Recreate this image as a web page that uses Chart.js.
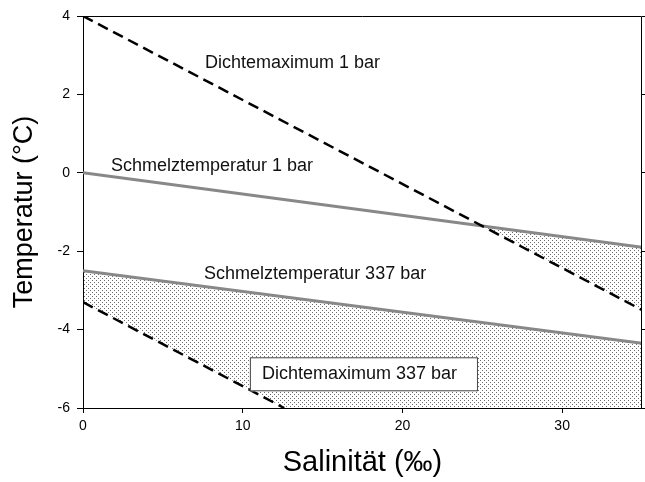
<!DOCTYPE html>
<html>
<head>
<meta charset="utf-8">
<script src="https://cdn.jsdelivr.net/npm/chart.js@4.4.1/dist/chart.umd.min.js"></script>
<style>
  html, body { margin: 0; padding: 0; background: #fff; }
  #wrap { width: 645px; height: 482px; }
</style>
</head>
<body>
<div id="wrap"><canvas id="chart" width="645" height="482"></canvas></div>
<script>
// Salinity (‰) vs temperature (°C)
const dichte1bar = [{ x: 0, y: 4.0 }, { x: 35, y: -3.5 }];
const schmelz1bar = [{ x: 0, y: 0.0 }, { x: 35, y: -1.9 }];
const schmelz337bar = [{ x: 0, y: -2.5 }, { x: 35, y: -4.35 }];
const dichte337bar = [{ x: 0, y: -3.3 }, { x: 12.6, y: -6.0 }];
// lower edge of the shaded band under the 337 bar melting line
const shadeLower = [{ x: 0, y: -3.3 }, { x: 12.6, y: -6.0 }, { x: 35, y: -6.0 }];

const xTicks = [0, 10, 20, 30];
const yTicks = [4, 2, 0, -2, -4, -6];

const FONT = '"Liberation Sans", Arial, sans-serif';

function makeDots() {
  const c = document.createElement('canvas');
  c.width = 4; c.height = 4;
  const g = c.getContext('2d');
  g.fillStyle = '#6e6e6e';
  g.fillRect(0, 0, 1, 1);
  g.fillRect(2, 2, 1, 1);
  return g.createPattern(c, 'repeat');
}
const dots = makeDots();

// text labels placed in data coordinates
const labels = [
  { text: 'Dichtemaximum 1 bar', x: 7.64, y: 2.8 },
  { text: 'Schmelztemperatur 1 bar', x: 1.75, y: 0.18 },
  { text: 'Schmelztemperatur 337 bar', x: 7.58, y: -2.57 },
  { text: 'Dichtemaximum 337 bar', x: 11.2, y: -5.14, box: true }
];

const labelPlugin = {
  id: 'labelPlugin',
  afterDatasetsDraw(chart) {
    const { ctx, scales: { x, y }, chartArea: a } = chart;
    ctx.save();
    // top and right edges of the frame
    ctx.strokeStyle = '#000';
    ctx.lineWidth = 1;
    ctx.beginPath();
    ctx.moveTo(a.left, a.top + 0.5);
    ctx.lineTo(a.right - 0.5, a.top + 0.5);
    ctx.lineTo(a.right - 0.5, a.bottom);
    ctx.stroke();
    ctx.font = '18px ' + FONT;
    ctx.textBaseline = 'middle';
    labels.forEach(l => {
      const px = x.getPixelForValue(l.x);
      const py = y.getPixelForValue(l.y);
      if (l.box) {
        const w = ctx.measureText(l.text).width;
        ctx.fillStyle = '#fff';
        ctx.fillRect(px - 12, py - 17, w + 33, 34);
        ctx.strokeStyle = '#444';
        ctx.strokeRect(px - 11.5, py - 16.5, w + 32, 33);
      }
      ctx.fillStyle = '#111';
      ctx.fillText(l.text, px, py);
    });
    ctx.restore();
  }
};

const dashed = [11, 6];

new Chart(document.getElementById('chart'), {
  type: 'line',
  data: {
    datasets: [
      { label: 'Dichtemaximum 337 bar', data: dichte337bar, borderColor: '#000', borderWidth: 2.5, borderDash: dashed, fill: false },
      { label: 'Dichtemaximum 1 bar', data: dichte1bar, borderColor: '#000', borderWidth: 2.5, borderDash: dashed, fill: false },
      { label: 'Schmelztemperatur 1 bar', data: schmelz1bar, borderColor: '#888', borderWidth: 3,
        fill: { target: 1, above: dots, below: 'rgba(0,0,0,0)' } },
      { label: 'Schmelztemperatur 337 bar', data: schmelz337bar, borderColor: '#888', borderWidth: 3,
        fill: { target: 4, above: dots, below: 'rgba(0,0,0,0)' } },
      { label: 'shade', data: shadeLower, borderWidth: 0, borderColor: 'rgba(0,0,0,0)', fill: false }
    ]
  },
  options: {
    responsive: false,
    animation: false,
    events: [],
    layout: { padding: { top: 16, right: 0, left: 0, bottom: 0 } },
    elements: { point: { radius: 0 }, line: { tension: 0, borderCapStyle: 'butt' } },
    plugins: { legend: { display: false }, tooltip: { enabled: false } },
    scales: {
      x: {
        type: 'linear', min: 0, max: 35,
        afterBuildTicks: s => { s.ticks = xTicks.map(v => ({ value: v })); },
        afterFit: s => { s.height = 74; },
        grid: { drawOnChartArea: false, drawTicks: true, tickLength: 5, color: '#000' },
        border: { color: '#000', width: 1 },
        ticks: { color: '#000', font: { family: FONT, size: 14 }, padding: 5, maxRotation: 0 },
        title: { display: true, text: 'Salinität (‰)', color: '#000', font: { family: FONT, size: 29 }, padding: { top: 0, bottom: 2 } }
      },
      y: {
        type: 'linear', min: -6, max: 4,
        afterBuildTicks: s => { s.ticks = yTicks.map(v => ({ value: v })); },
        afterFit: s => { s.width = 83; },
        grid: { drawOnChartArea: false, drawTicks: true, tickLength: 6, color: '#000' },
        border: { color: '#000', width: 1 },
        ticks: { color: '#000', font: { family: FONT, size: 14 }, padding: 7 },
        title: { display: true, text: 'Temperatur (°C)', color: '#000', font: { family: FONT, size: 27 }, padding: { top: 8, bottom: 0 } }
      },
      y2: {
        type: 'linear', position: 'right', min: -6, max: 4,
        afterBuildTicks: s => { s.ticks = yTicks.map(v => ({ value: v })); },
        afterFit: s => { s.width = 3; },
        grid: { drawOnChartArea: false, drawTicks: true, tickLength: 3, color: '#000' },
        border: { display: false },
        ticks: { display: false }
      }
    }
  },
  plugins: [labelPlugin]
});
</script>
</body>
</html>
